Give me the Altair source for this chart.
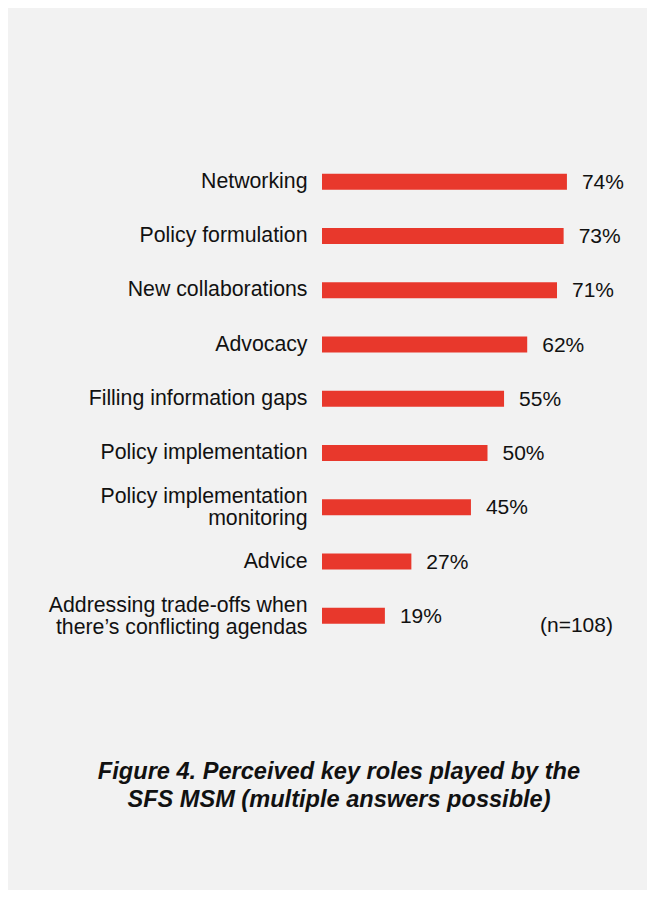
import altair as alt
import pandas as pd

roles = [
    "Networking",
    "Policy formulation",
    "New collaborations",
    "Advocacy",
    "Filling information gaps",
    "Policy implementation",
    "Policy implementation|monitoring",
    "Advice",
    "Addressing trade-offs when|there\u2019s conflicting agendas",
]
shares = [74, 73, 71, 62, 55, 50, 45, 27, 19]
note_text = ["(n=108)"]
title_lines = ["Figure 4. Perceived key roles played by the", "SFS MSM (multiple answers possible)"]

df = pd.DataFrame({"role": roles, "share": shares})

FONT = "Liberation Sans"
RED = "#e8382c"
INK = "#111111"

y_enc = alt.Y(
    "role:N",
    sort=roles,
    scale=alt.Scale(paddingInner=0.705, paddingOuter=0.3525),
    axis=alt.Axis(
        title=None,
        domain=False,
        ticks=False,
        grid=False,
        labelExpr="split(datum.label, '|')",
        labelFont=FONT,
        labelFontSize=21.3,
        labelLineHeight=22,
        labelColor=INK,
        labelPadding=15,
        labelLimit=400,
        labelBaseline="middle",
        labelOffset={"condition": {"test": "indexof(datum.value, '|') >= 0", "value": -10}, "value": 0},
    ),
)
x_enc = alt.X("share:Q", scale=alt.Scale(domain=[0, 80]), axis=None)

base = alt.Chart(df)

bars = base.mark_bar(color=RED).encode(x=x_enc, y=y_enc)

values = base.transform_calculate(lbl="datum.share + '%'").mark_text(
    align="left", baseline="middle", dx=15, dy=1, font=FONT, fontSize=21, color=INK
).encode(x=x_enc, y=alt.Y("role:N", sort=roles), text="lbl:N")

note = alt.Chart(pd.DataFrame({"t": note_text})).mark_text(
    align="left", baseline="alphabetic", font=FONT, fontSize=21, color=INK
).encode(x=alt.value(218), y=alt.value(477), text="t:N")

title = alt.Chart(pd.DataFrame({"t": ["|".join(title_lines)]})).mark_text(
    align="center", baseline="alphabetic", font=FONT, fontSize=23.6, fontWeight="bold",
    fontStyle="italic", lineHeight=28, lineBreak="|", color=INK
).encode(x=alt.value(17), y=alt.value(624.6), text="t:N")

chart = alt.layer(bars, values, note, title).properties(
    width=264.8,
    height=488.25,
    background="#f2f2f2",
    padding={"left": 314, "top": 146.7, "right": 60.2, "bottom": 247},
    autosize=alt.AutoSizeParams(type="none"),
).configure_view(stroke=None)

chart.save("out.html", embed_options={"renderer": "svg", "actions": False})
